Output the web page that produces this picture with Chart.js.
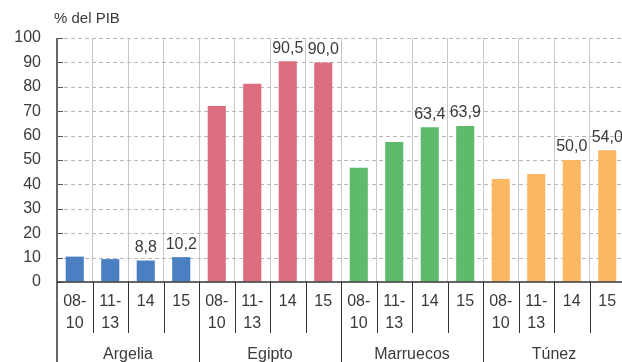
<!DOCTYPE html>
<html><head><meta charset="utf-8">
<script src="https://cdn.jsdelivr.net/npm/chart.js@4/dist/chart.umd.min.js"></script>
<style>html,body{margin:0;padding:0;background:#fff;overflow:hidden}#wrap{width:628px;height:362px;position:relative}</style>
</head><body><div id="wrap"><canvas id="c"></canvas></div>
<script>
const countries = ['Argelia','Egipto','Marruecos','Túnez'];
const periods = ['08-10','11-13','14','15'];
const periodLines = [['08-','10'],['11-','13'],['14'],['15']];
const argelia = [10.4, 9.4, 8.8, 10.2];
const egipto = [72.1, 81.3, 90.5, 90.0];
const marruecos = [46.8, 57.4, 63.4, 63.9];
const tunez = [42.2, 44.3, 50.0, 54.0];
const showLabel = [false, false, true, true];
const colors = ['#4a7fc1','#dc6d7f','#5dbb6b','#fcb762'];
const yTicks = [0,10,20,30,40,50,60,70,80,90,100];

const series = [argelia, egipto, marruecos, tunez];
const labels = [], values = [], barColors = [];
series.forEach((s, g) => s.forEach((v, i) => {
  labels.push(countries[g] + ' ' + periods[i]);
  values.push(v);
  barColors.push(colors[g]);
}));

const FONT = '"Liberation Sans", Arial, sans-serif';
const TXT = '#3a3a3a';

const underlay = {
  id: 'underlay',
  beforeDatasetsDraw(chart) {
    const ctx = chart.ctx, ys = chart.scales.y, ca = chart.chartArea;
    ctx.save();
    ctx.strokeStyle = '#b8b8b8'; ctx.lineWidth = 1; ctx.setLineDash([4, 3]);
    yTicks.forEach(t => {
      if (t === 0) return;
      const y = Math.round(ys.getPixelForValue(t)) + 0.5;
      ctx.beginPath(); ctx.moveTo(ca.left, y); ctx.lineTo(ca.right, y); ctx.stroke();
    });
    ctx.restore();
  }
};

const overlay = {
  id: 'overlay',
  afterDraw(chart) {
    const ctx = chart.ctx, xs = chart.scales.x, ys = chart.scales.y, ca = chart.chartArea;
    const n = values.length;
    const half = (xs.getPixelForValue(1) - xs.getPixelForValue(0)) / 2;
    ctx.save();
    ctx.strokeStyle = '#555'; ctx.lineWidth = 1;
    yTicks.forEach(t => {
      const y = Math.round(ys.getPixelForValue(t)) + 0.5;
      ctx.beginPath(); ctx.moveTo(ca.left, y); ctx.lineTo(ca.left + 6, y); ctx.stroke();
    });
    ctx.strokeStyle = '#333';
    for (let i = 0; i <= n; i++) {
      const x = Math.round(xs.getPixelForValue(i) - half) + 0.5;
      const grp = i % periods.length === 0;
      ctx.lineWidth = 1;
      ctx.beginPath(); ctx.moveTo(x, ca.bottom); ctx.lineTo(x, grp ? chart.height : ca.bottom + 51); ctx.stroke();
    }
    ctx.strokeStyle = '#666'; ctx.lineWidth = 2;
    ctx.beginPath(); ctx.moveTo(ca.left, ca.top); ctx.lineTo(ca.left, chart.height); ctx.stroke();
    ctx.strokeStyle = '#333'; ctx.lineWidth = 1.5;
    ctx.beginPath(); ctx.moveTo(ca.left, ca.bottom); ctx.lineTo(ca.right, ca.bottom); ctx.stroke();
    ctx.fillStyle = TXT; ctx.font = '16px ' + FONT; ctx.textAlign = 'center'; ctx.textBaseline = 'middle';
    for (let i = 0; i < n; i++) {
      const x = xs.getPixelForValue(i);
      const lines = periodLines[i % periods.length];
      lines.forEach((l, k) => ctx.fillText(l, x, ca.bottom + 20 + k * 22));
    }
    countries.forEach((c, g) => {
      const x0 = xs.getPixelForValue(g * periods.length) - half;
      const x1 = xs.getPixelForValue((g + 1) * periods.length - 1) + half;
      ctx.fillText(c, (x0 + x1) / 2, ca.bottom + 73);
    });
    ctx.textBaseline = 'bottom';
    for (let i = 0; i < n; i++) {
      if (!showLabel[i % periods.length]) continue;
      const x = xs.getPixelForValue(i), y = ys.getPixelForValue(values[i]);
      ctx.fillText(values[i].toFixed(1).replace('.', ','), x, y - 5);
    }
    ctx.textAlign = 'left'; ctx.textBaseline = 'middle'; ctx.font = '15px ' + FONT;
    ctx.fillText('% del PIB', 54, 19);
    ctx.restore();
  }
};

new Chart(document.getElementById('c'), {
  type: 'bar',
  data: { labels, datasets: [{ data: values, backgroundColor: barColors, borderWidth: 0,
    barPercentage: 0.51, categoryPercentage: 1 }] },
  options: {
    responsive: true, maintainAspectRatio: false, animation: false,
    layout: { padding: { top: 38, right: 3, left: 0, bottom: 0 } },
    plugins: { legend: { display: false }, tooltip: { enabled: false } },
    scales: {
      x: {
        grid: { display: true, color: '#c8c8c8', drawTicks: false, offset: true },
        border: { display: false },
        ticks: { display: false },
        afterFit: s => { s.height = 80; }
      },
      y: {
        min: 0, max: 100,
        afterBuildTicks: s => { s.ticks = yTicks.map(v => ({ value: v })); },
        grid: { display: true, color: 'rgba(0,0,0,0)', drawTicks: false },
        border: { display: false },
        ticks: { color: TXT, font: { size: 16, family: FONT }, padding: 16 },
        afterFit: s => { s.width = 57; }
      }
    }
  },
  plugins: [underlay, overlay]
});
</script></body></html>
